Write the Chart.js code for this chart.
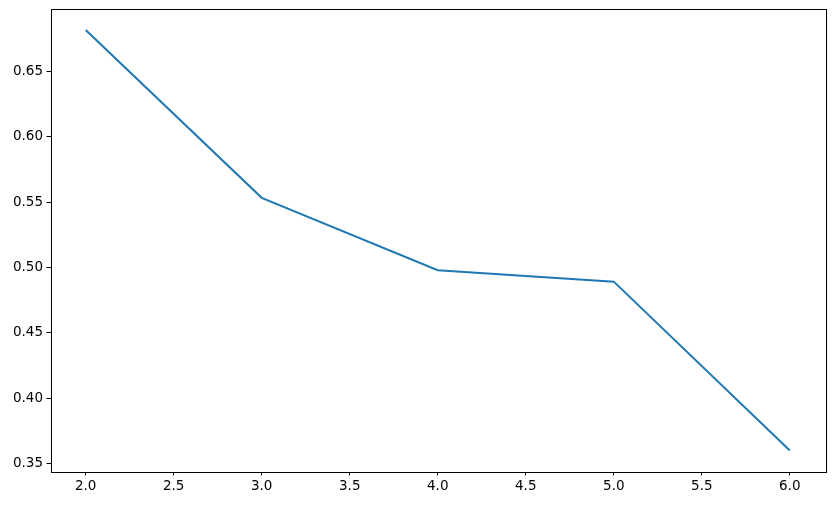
<!DOCTYPE html>
<html>
<head>
<meta charset="utf-8">
<script src="https://cdn.jsdelivr.net/npm/chart.js@4/dist/chart.umd.min.js"></script>
<style>
html,body{margin:0;padding:0;background:#fff;}
canvas{display:block;}
</style>
</head>
<body>
<canvas id="c" width="835" height="505"></canvas>
<script>
const xValues = [2, 3, 4, 5, 6];
const yValues = [0.6815, 0.5532, 0.4978, 0.4891, 0.3600];
const xTicks = [2.0, 2.5, 3.0, 3.5, 4.0, 4.5, 5.0, 5.5, 6.0];
const yTicks = [0.35, 0.40, 0.45, 0.50, 0.55, 0.60, 0.65];

const frame = {
  id: 'frame',
  afterDraw(chart) {
    const a = chart.chartArea, ctx = chart.ctx;
    ctx.save();
    ctx.strokeStyle = '#000';
    ctx.lineWidth = 1;
    ctx.strokeRect(Math.round(a.left) + 0.5, Math.round(a.top) + 0.5, Math.round(a.right - a.left), Math.round(a.bottom - a.top));
    ctx.restore();
  }
};

new Chart(document.getElementById('c'), {
  type: 'line',
  data: {
    datasets: [{
      data: xValues.map((x, i) => ({x: x, y: yValues[i]})),
      borderColor: '#1f77b4',
      borderWidth: 2,
      pointRadius: 0,
      fill: false,
      tension: 0
    }]
  },
  options: {
    responsive: false,
    animation: false,
    layout: {padding: {left: 0, top: 9, right: 10, bottom: 0}},
    plugins: {legend: {display: false}, tooltip: {enabled: false}},
    scales: {
      x: {
        type: 'linear',
        min: 1.8, max: 6.2,
        afterBuildTicks: s => { s.ticks = xTicks.map(v => ({value: v})); },
        afterFit: s => { s.height = 33.5; s.paddingLeft = 0; s.paddingRight = 0; },
        grid: {drawOnChartArea: false, tickLength: 4, tickColor: '#000', tickWidth: 1},
        border: {display: false},
        ticks: {color: '#000', font: {family: 'DejaVu Sans', size: 13.5}, padding: 3, maxRotation: 0,
                callback: v => Number(v).toFixed(1)}
      },
      y: {
        type: 'linear',
        min: 0.3439, max: 0.6976,
        afterBuildTicks: s => { s.ticks = yTicks.map(v => ({value: v})); },
        afterFit: s => { s.width = 50.5; s.paddingTop = 0; s.paddingBottom = 0; },
        grid: {drawOnChartArea: false, tickLength: 4, tickColor: '#000', tickWidth: 1},
        border: {display: false},
        ticks: {color: '#000', font: {family: 'DejaVu Sans', size: 13.5}, padding: 3.5,
                callback: v => Number(v).toFixed(2)}
      }
    }
  },
  plugins: [frame]
});
</script>
</body>
</html>
